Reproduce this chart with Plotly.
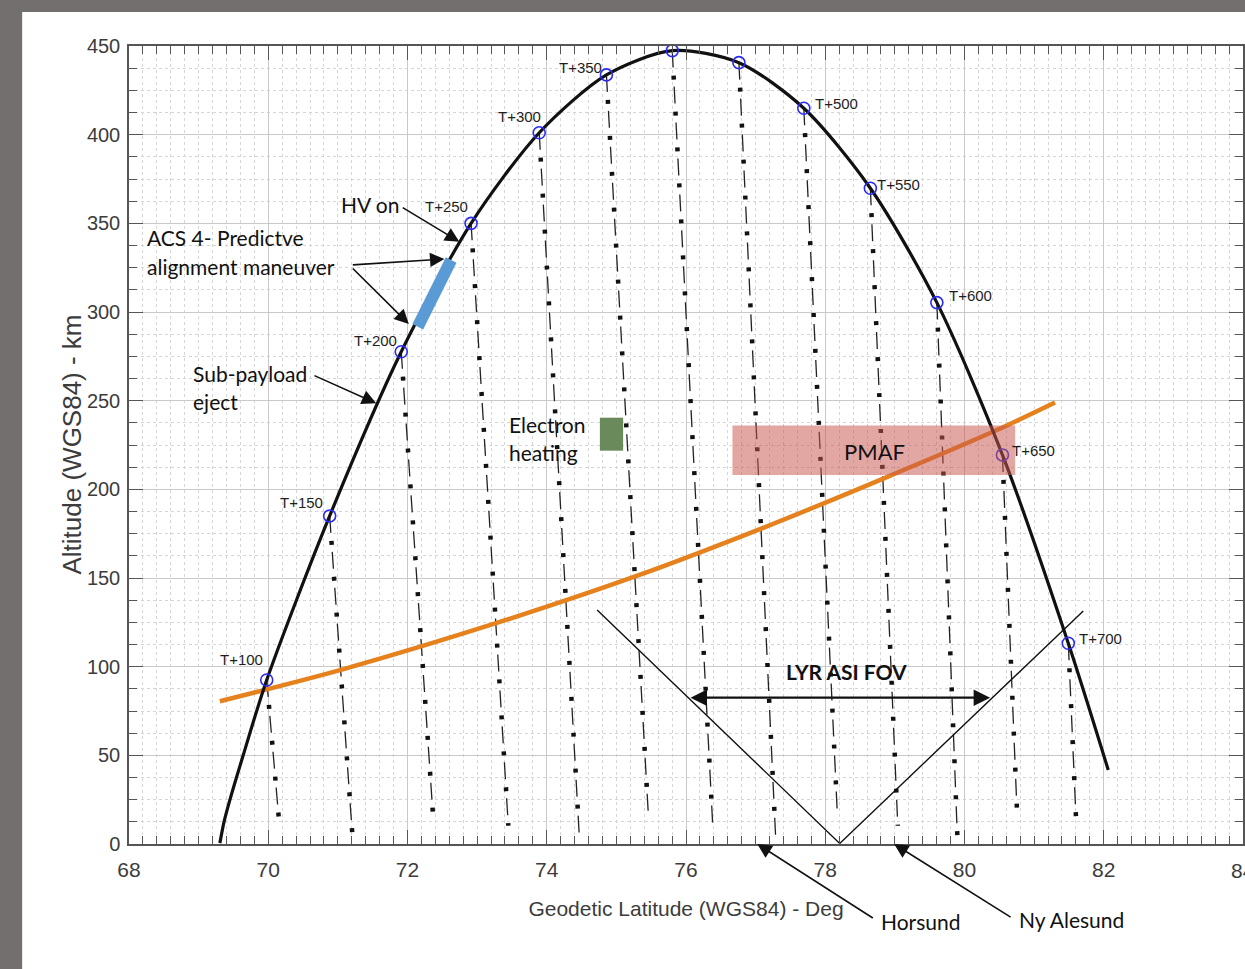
import plotly.graph_objects as go

# ---- flight trajectory (geodetic latitude in deg, altitude in km) ----
traj_lat = [69.305, 69.365, 69.450, 69.640, 69.978, 70.882, 71.910, 72.913, 73.892,
            74.857, 75.803, 76.760, 77.692, 78.648, 79.603, 80.545, 81.491, 82.065]
traj_alt = [0.5, 12.5, 25.0, 50.0, 92.5, 185.0, 277.6, 350.0, 401.1,
            433.7, 447.4, 440.6, 414.9, 369.8, 305.3, 219.4, 113.2, 41.7]

# ---- time marks along the trajectory ----
mark_time = [100, 150, 200, 250, 300, 350, 400, 450, 500, 550, 600, 650, 700]
mark_lat = [69.978, 70.882, 71.910, 72.913, 73.892, 74.857, 75.803, 76.760,
            77.692, 78.648, 79.603, 80.545, 81.491]
mark_alt = [92.5, 185.0, 277.6, 350.0, 401.1, 433.7, 447.4, 440.6,
            414.9, 369.8, 305.3, 219.4, 113.2]
mark_text = ["T+100", "T+150", "T+200", "T+250", "T+300", "T+350", "", "",
             "T+500", "T+550", "T+600", "T+650", "T+700"]

# ---- lower ends of the sub-payload fall lines ----
drop_lat = [70.155, 71.207, 72.363, 73.448, 74.470, 75.461, 76.387, 77.290,
            78.175, 79.042, 79.897, 80.753, 81.603]
drop_alt = [13.1, 6.0, 18.2, 10.3, 2.8, 15.4, 8.3, 1.7, 16.0, 10.3, 4.9, 19.7, 13.5]

# ---- orange altitude line ----
orange_lat = [69.305, 71.070, 73.270, 75.280, 77.090, 78.860, 80.440, 81.300]
orange_alt = [80.5, 98.5, 124.5, 151.0, 178.0, 206.5, 233.0, 249.0]

# ---- LYR all-sky imager field of view ----
fov_lat = [74.724, 78.208, 81.706]
fov_alt = [132.0, 0.3, 131.4]
fov_arrow_lat = [76.043, 80.368]
fov_arrow_alt = 82.5

# ---- event regions ----
pmaf_lat = [76.667, 80.728]
pmaf_alt = [208.1, 236.0]
heat_lat = [74.763, 75.097]
heat_alt = [221.8, 240.4]
acs_lat = [72.148, 72.627]
acs_alt = [291.7, 329.3]

x_ticks = [68, 70, 72, 74, 76, 78, 80, 82, 84]

TICK_FONT = "Liberation Sans Narrow, Arial Narrow, Liberation Sans, Arial, sans-serif"
NOTE_FONT = "Lato, Open Sans, sans-serif"
AX_GREY = "#3c3c3c"

fig = go.Figure()

# fall lines: thin dashes plus heavy dots in the gaps (dash-dot look)
for i in range(len(mark_time)):
    xs = [mark_lat[i], drop_lat[i]]
    ys = [mark_alt[i], drop_alt[i]]
    fig.add_trace(go.Scatter(x=xs, y=ys, mode="lines", hoverinfo="skip",
                             line=dict(color="#222222", width=1.3, dash="17px,19px"),
                             showlegend=False))
    fig.add_trace(go.Scatter(x=xs, y=ys, mode="lines", hoverinfo="skip",
                             line=dict(color="#111111", width=4.5, dash="0px,25px,4px,7px"),
                             showlegend=False))

# orange line
fig.add_trace(go.Scatter(x=orange_lat, y=orange_alt, mode="lines",
                         line=dict(color="#e6821e", width=4.5, shape="spline", smoothing=0.8),
                         showlegend=False))

# trajectory
fig.add_trace(go.Scatter(x=traj_lat, y=traj_alt, mode="lines",
                         line=dict(color="#111111", width=3.2, shape="spline", smoothing=0.8),
                         showlegend=False))

# time markers
fig.add_trace(go.Scatter(x=mark_lat, y=mark_alt, mode="markers",
                         marker=dict(symbol="circle-open", size=12, color="#2b2bf0",
                                     line=dict(width=1.6)),
                         showlegend=False))

# field-of-view cone
fig.add_trace(go.Scatter(x=fov_lat, y=fov_alt, mode="lines",
                         line=dict(color="#111111", width=1.4), showlegend=False))

# ---- shapes ----
shapes = [
    # white panel behind the chart
    dict(type="rect", xref="paper", yref="paper", x0=-0.0959, x1=1.02, y0=-0.2, y1=1.0426,
         fillcolor="white", line=dict(width=0), layer="below"),
    # PMAF region
    dict(type="rect", xref="x", yref="y", x0=pmaf_lat[0], x1=pmaf_lat[1],
         y0=pmaf_alt[0], y1=pmaf_alt[1], fillcolor="rgba(200,86,76,0.52)",
         line=dict(width=0), layer="above"),
    # electron heating
    dict(type="rect", xref="x", yref="y", x0=heat_lat[0], x1=heat_lat[1],
         y0=heat_alt[0], y1=heat_alt[1], fillcolor="#6b8a5c",
         line=dict(width=0), layer="above"),
    # ACS 4 manoeuvre segment
    dict(type="line", xref="x", yref="y", x0=acs_lat[0], x1=acs_lat[1],
         y0=acs_alt[0], y1=acs_alt[1], line=dict(color="#5b9bd5", width=12), layer="above"),
]

# ---- annotations ----
ann = []

# time labels next to the markers (pixel offsets)
label_shift = {100: (-25, 20), 150: (-28, 13), 200: (-26, 11), 250: (-25, 17),
               300: (-20, 16), 350: (-26, 7), 500: (33, 5), 550: (28, 4),
               600: (34, 7), 650: (31, 4), 700: (32, 5)}
for t, la, al, txt in zip(mark_time, mark_lat, mark_alt, mark_text):
    if not txt:
        continue
    dx, dy = label_shift[t]
    ann.append(dict(x=la, y=al, xref="x", yref="y", text=txt, showarrow=False,
                    xshift=dx, yshift=dy,
                    font=dict(family=TICK_FONT, size=15, color="#1e1e1e")))

arrow_style = dict(showarrow=True, arrowhead=2, arrowsize=1.8, arrowwidth=1.6,
                   arrowcolor="#111111", text="")


def data_arrow(hx, hy, tx, ty, **kw):
    a = dict(x=hx, y=hy, ax=tx, ay=ty, xref="x", yref="y", axref="x", ayref="y")
    a.update(arrow_style)
    a.update(kw)
    return a


ann += [
    data_arrow(72.745, 339.6, 71.910, 359.4),        # HV on
    data_arrow(72.530, 329.9, 71.193, 326.5),        # ACS upper
    data_arrow(72.019, 293.2, 71.193, 325.4),        # ACS lower
    data_arrow(71.551, 248.5, 70.642, 264.5),        # sub-payload eject
    data_arrow(fov_arrow_lat[1], fov_arrow_alt, fov_arrow_lat[0], fov_arrow_alt,
               arrowside="end+start", arrowwidth=2.2, arrowsize=1.5),
]

# ground-station pointers below the axis
for hx, ax_, ay_ in [(77.024, 117, 75), (78.989, 118, 74)]:
    a = dict(x=hx, y=0.0, xref="x", yref="paper", axref="pixel", ayref="pixel",
             ax=ax_, ay=ay_)
    a.update(arrow_style)
    ann.append(a)

note_font = dict(family=NOTE_FONT, size=21, color="#111111")


def note(x, y, text, yref="y", **kw):
    a = dict(x=x, y=y, xref="x", yref=yref, text=text, showarrow=False,
             xanchor="left", yanchor="middle", font=note_font)
    a.update(kw)
    return a


ann += [
    note(71.011, 360.9, "HV on"),
    note(68.229, 341.8, "ACS 4- Predictve"),
    note(68.229, 325.4, "alignment maneuver"),
    note(68.889, 265.6, "Sub-payload"),
    note(68.889, 249.3, "eject"),
    note(73.434, 236.3, "Electron"),
    note(73.434, 220.5, "heating"),
    note(78.709, 221.1, "PMAF", xanchor="center", font=dict(family=NOTE_FONT, size=22, color="#111111")),
    note(78.308, 97.0, "<b>LYR ASI FOV</b>", xanchor="center"),
    note(78.767, -0.0965, "Horsund", yref="paper"),
    note(80.760, -0.0952, "Ny Alesund", yref="paper"),
    # last x tick label, cut by the page edge
    dict(x=1.0, y=-0.033, xref="paper", yref="paper", text="84", showarrow=False,
         xanchor="center", yanchor="middle",
         font=dict(family=TICK_FONT, size=21, color=AX_GREY)),
    # y-axis title
    dict(x=-0.0516, y=0.5, xref="paper", yref="paper", text="Altitude (WGS84) - km",
         showarrow=False, textangle=-90, xanchor="center", yanchor="middle",
         font=dict(family=TICK_FONT, size=26, color=AX_GREY)),
]

axis_common = dict(
    showline=True, linecolor="#555555", linewidth=1.5, mirror="ticks",
    ticks="inside", ticklen=14, tickwidth=1.3, tickcolor="#555555",
    showgrid=True, gridcolor="#c9c9c9", gridwidth=1,
    zeroline=False,
)

fig.update_layout(
    width=1245, height=969,
    margin=dict(l=129, r=0, t=46, b=125),
    paper_bgcolor="#736f6f",
    plot_bgcolor="white",
    shapes=shapes,
    annotations=ann,
    xaxis=dict(range=[68, 84], tickmode="array", tickvals=x_ticks[:-1],
               minor=dict(dtick=0.2, tick0=68, ticks="inside", ticklen=8,
                          tickcolor="#555555", showgrid=True, gridcolor="#d6d6d6",
                          griddash="dot"),
               title=dict(text="Geodetic Latitude (WGS84) - Deg", standoff=21,
                          font=dict(family=TICK_FONT, size=21, color=AX_GREY)),
               tickfont=dict(family=TICK_FONT, size=21, color=AX_GREY),
               ticklabelstandoff=6,
               **axis_common),
    yaxis=dict(range=[0, 450], dtick=50, tick0=0,
               minor=dict(dtick=12.5, tick0=0, ticks="inside", ticklen=8,
                          tickcolor="#555555", showgrid=True, gridcolor="#d6d6d6",
                          griddash="dot"),
               tickfont=dict(family=TICK_FONT, size=20, color=AX_GREY),
               ticklabelstandoff=3,
               **axis_common),
)

fig.write_html("out.html")
